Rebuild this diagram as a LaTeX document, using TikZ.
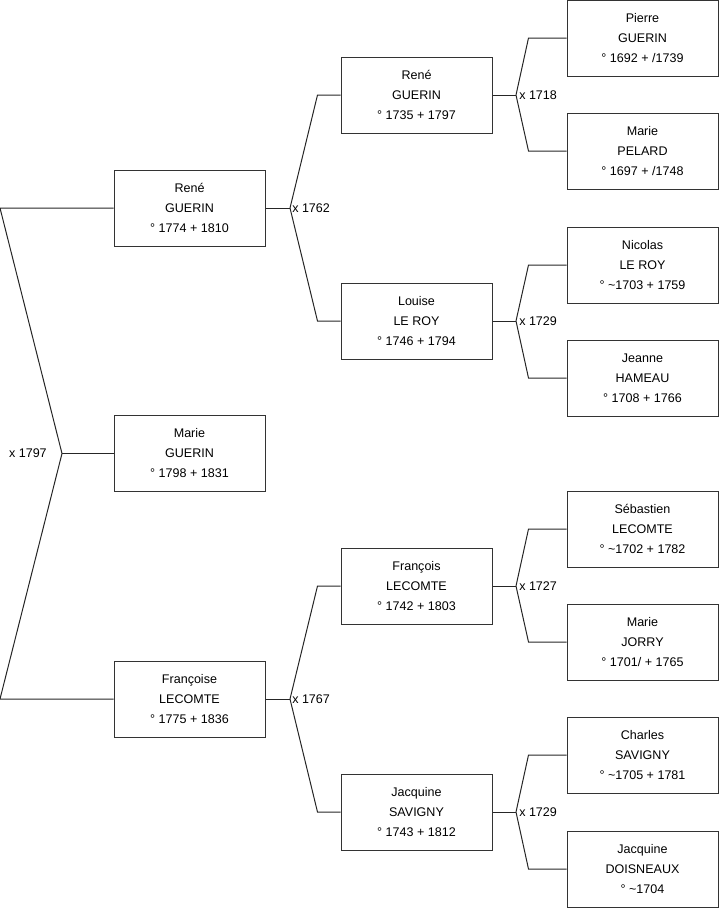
\documentclass[tikz,border=0pt]{standalone}
\usepackage{fontspec}
\setmainfont{Liberation Sans}
\usetikzlibrary{positioning, calc}

\begin{document}
\begin{tikzpicture}[
  x=0.75pt, y=-0.75pt,
  personbox/.style={draw=black!80, fill=white, line width=0.75pt, minimum width=113.25pt, minimum height=57pt, align=center, inner sep=0pt, font=\fontsize{9.4}{15}\selectfont},
  marlabel/.style={inner sep=0pt, font=\fontsize{9.4}{12}\selectfont},
  link/.style={line width=0.75pt, black!85},
  ]
  \useasboundingbox (0,0) rectangle (719,908);

  % generation 1
  \node[personbox] (rene1) at (189.5, 208) {René\\GUERIN\\° 1774 + 1810};
  \node[personbox] (marie1) at (189.5, 453.5) {Marie\\GUERIN\\° 1798 + 1831};
  \node[personbox] (francoise1) at (189.5, 699) {Françoise\\LECOMTE\\° 1775 + 1836};

  % generation 2
  \node[personbox] (rene2) at (416.5, 95) {René\\GUERIN\\° 1735 + 1797};
  \node[personbox] (louise2) at (416.5, 321) {Louise\\LE ROY\\° 1746 + 1794};
  \node[personbox] (francois2) at (416.5, 586) {François\\LECOMTE\\° 1742 + 1803};
  \node[personbox] (jacquine2) at (416.5, 812) {Jacquine\\SAVIGNY\\° 1743 + 1812};

  % generation 3
  \node[personbox] (pierre3) at (642.5, 38) {Pierre\\GUERIN\\° 1692 + /1739};
  \node[personbox] (marie3) at (642.5, 151) {Marie\\PELARD\\° 1697 + /1748};
  \node[personbox] (nicolas3) at (642.5, 265) {Nicolas\\LE ROY\\° \textasciitilde1703 + 1759};
  \node[personbox] (jeanne3) at (642.5, 378) {Jeanne\\HAMEAU\\° 1708 + 1766};
  \node[personbox] (sebastien3) at (642.5, 529) {Sébastien\\LECOMTE\\° \textasciitilde1702 + 1782};
  \node[personbox] (jorry3) at (642.5, 642) {Marie\\JORRY\\° 1701/ + 1765};
  \node[personbox] (charles3) at (642.5, 755) {Charles\\SAVIGNY\\° \textasciitilde1705 + 1781};
  \node[personbox] (doisneaux3) at (642.5, 869) {Jacquine\\DOISNEAUX\\° \textasciitilde1704};

  % fork points
  \coordinate (top0) at (0, 208);
  \coordinate (bot0) at (0, 699);
  \coordinate (f0) at (62, 453.5);
  \coordinate (f1) at (290, 208);
  \coordinate (f2) at (290, 699);
  \coordinate (f3) at (516, 95);
  \coordinate (f4) at (516, 321);
  \coordinate (f5) at (516, 586);
  \coordinate (f6) at (516, 812);

  % marriages
  \node[marlabel, anchor=east] (m0) at ($(f0)+(-15,0)$) {x 1797};
  \node[marlabel, anchor=west] (m1) at ($(f1)+(2,0)$) {x 1762};
  \node[marlabel, anchor=west] (m2) at ($(f2)+(2,0)$) {x 1767};
  \node[marlabel, anchor=west] (m3) at ($(f3)+(3,0)$) {x 1718};
  \node[marlabel, anchor=west] (m4) at ($(f4)+(3,0)$) {x 1729};
  \node[marlabel, anchor=west] (m5) at ($(f5)+(3,0)$) {x 1727};
  \node[marlabel, anchor=west] (m6) at ($(f6)+(3,0)$) {x 1729};

  % root links
  \draw[link] (rene1.west) -- (top0) -- (f0) -- (bot0) -- (francoise1.west);
  \draw[link] (f0) -- (marie1.west);

  % parents of generation 1
  \draw[link] (rene1.east) -- (f1);
  \draw[link] (f1) -- ($(rene2.west)+(-23,0)$) -- (rene2.west);
  \draw[link] (f1) -- ($(louise2.west)+(-23,0)$) -- (louise2.west);
  \draw[link] (francoise1.east) -- (f2);
  \draw[link] (f2) -- ($(francois2.west)+(-23,0)$) -- (francois2.west);
  \draw[link] (f2) -- ($(jacquine2.west)+(-23,0)$) -- (jacquine2.west);

  % parents of generation 2
  \draw[link] (rene2.east) -- (f3);
  \draw[link] (f3) -- ($(pierre3.west)+(-38,0)$) -- (pierre3.west);
  \draw[link] (f3) -- ($(marie3.west)+(-38,0)$) -- (marie3.west);
  \draw[link] (louise2.east) -- (f4);
  \draw[link] (f4) -- ($(nicolas3.west)+(-38,0)$) -- (nicolas3.west);
  \draw[link] (f4) -- ($(jeanne3.west)+(-38,0)$) -- (jeanne3.west);
  \draw[link] (francois2.east) -- (f5);
  \draw[link] (f5) -- ($(sebastien3.west)+(-38,0)$) -- (sebastien3.west);
  \draw[link] (f5) -- ($(jorry3.west)+(-38,0)$) -- (jorry3.west);
  \draw[link] (jacquine2.east) -- (f6);
  \draw[link] (f6) -- ($(charles3.west)+(-38,0)$) -- (charles3.west);
  \draw[link] (f6) -- ($(doisneaux3.west)+(-38,0)$) -- (doisneaux3.west);
\end{tikzpicture}
\end{document}
